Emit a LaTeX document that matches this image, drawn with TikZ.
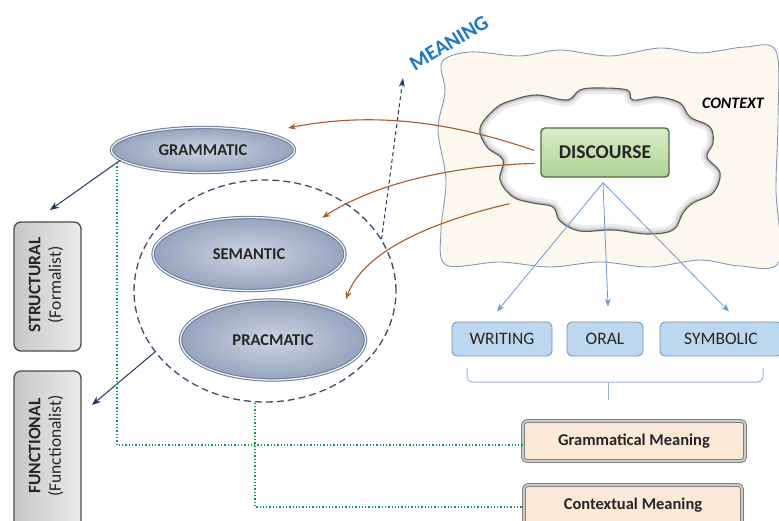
\documentclass[tikz,border=0pt]{standalone}
\usepackage{fontspec}
\setmainfont{Carlito}
\usetikzlibrary{shapes.geometric,arrows.meta,calc}
\definecolor{navy}{HTML}{1F3864}
\definecolor{brownarr}{HTML}{A85A2A}
\definecolor{ellin}{HTML}{CDD5E3}
\definecolor{ellout}{HTML}{95A3BC}
\definecolor{ellline}{HTML}{6A7A9A}
\definecolor{ctxfill}{HTML}{FCF7EF}
\definecolor{ctxline}{HTML}{8797B3}
\definecolor{boxblue}{HTML}{BDD7EE}
\definecolor{boxblueline}{HTML}{6E97C9}
\definecolor{lineblue}{HTML}{6A9AD3}
\definecolor{dotgreen}{HTML}{00A050}
\definecolor{peach}{HTML}{FCE9D8}
\definecolor{meaningblue}{HTML}{1F77C8}
\definecolor{bracketcol}{HTML}{9DB3D1}
\definecolor{discin}{HTML}{D9EBCB}
\definecolor{discout}{HTML}{AFD394}
\definecolor{discline}{HTML}{4F6E3E}
\newcommand\myfs[1]{\fontsize{#1}{#1}\selectfont}
\begin{document}
\begin{tikzpicture}[x=1pt,y=-1pt,
  ell/.style={ellipse, shading=radial, inner color=ellin, outer color=ellout,
     draw=ellline, double=white!70!ellin, double distance=1.3pt, line width=1pt,
     font=\myfs{16.5}\bfseries, text=black!85},
  sidebox/.style={rectangle, rounded corners=7pt, left color=black!22, right color=black!8,
     draw=black!70, line width=1.3pt},
  mediabox/.style={rectangle, rounded corners=5pt, fill=boxblue, draw=boxblueline, line width=0.9pt,
     font=\myfs{17.5}, text=black!85, minimum height=34pt},
  meanbox/.style={rectangle, rounded corners=4pt, fill=peach, draw=black!50, double=black!20,
     double distance=1.8pt, line width=1pt, font=\myfs{16.5}\bfseries, text=black!85},
  brownarrow/.style={brownarr, line width=1.1pt, -{Stealth[length=8pt,width=6pt]}},
  navyarrow/.style={navy, line width=1pt, -{Stealth[length=9pt,width=7pt]}},
  bluearrow/.style={lineblue, line width=0.8pt, -{Stealth[length=8pt,width=6pt]}},
  dotline/.style={dotgreen, line width=1.3pt, dotted}
]
\useasboundingbox (0,0) rectangle (779,521);

% context area
\filldraw[fill=ctxfill, draw=ctxline, line width=0.9pt]
  plot[smooth cycle, tension=0.55] coordinates {
   (442,62) (470,52) (520,56) (560,50) (610,56) (660,48) (700,53) (745,47) (776,51)
   (778,120) (776,190) (779,262)
   (740,266) (700,260) (650,267) (600,262) (550,267) (500,262) (446,265)
   (441,230) (446,180) (438,130) (445,92)};

% cloud
\def\cloudpath{plot[smooth cycle, tension=0.6] coordinates {
  (480,128) (496,108) (513,100) (537,95) (567,100) (580,90) (597,88) (627,90) (633,100)
  (657,97) (680,103) (690,117) (710,127) (713,143) (707,157) (720,173) (713,193)
  (693,203) (683,213) (673,230) (647,234) (613,230) (580,231) (560,221) (553,207)
  (533,203) (513,197) (500,180) (503,160) (487,147)}}
\fill[white] \cloudpath;
\begin{scope}
  \clip \cloudpath;
  \draw[black!15, line width=12pt, opacity=0.5] \cloudpath;
  \draw[black!25, line width=6pt, opacity=0.5] \cloudpath;
  \draw[black!35, line width=3pt, opacity=0.5] \cloudpath;
\end{scope}
\draw[black!65, line width=1.1pt] \cloudpath;

\node[font=\myfs{16}\bfseries\itshape, text=black] (ctx) at (733,103) {CONTEXT};

% discourse
\node[rectangle, rounded corners=4pt, top color=discin, bottom color=discout,
  draw=discline, line width=1.4pt, minimum width=128pt, minimum height=49pt,
  font=\myfs{19.5}\bfseries, text=black!85] (disc) at (605,152.5) {DISCOURSE};

% ellipses
\node[ell, minimum width=183pt, minimum height=45pt] (gram) at (203,150) {GRAMMATIC};
\node[ell, minimum width=192pt, minimum height=73pt] (sem) at (249,254) {SEMANTIC};
\node[ell, minimum width=185pt, minimum height=80pt] (prag) at (273,340) {PRACMATIC};
\node[ellipse, draw=navy!70!gray, dashed, dash pattern=on 7pt off 4pt, line width=1.3pt,
  minimum width=262pt, minimum height=222pt] (circ) at (265,291) {};

% side boxes
\node[sidebox, minimum width=67pt, minimum height=129pt] (struct) at (47.5,286.5) {};
\node[rotate=90, align=center, font=\myfs{17.5}, text=black!85] (structlbl) at (46,285)
  {{\bfseries STRUCTURAL}\\[3pt](Formalist)};
\node[sidebox, minimum width=67pt, minimum height=170pt] (func) at (47.5,456) {};
\node[rotate=90, align=center, font=\myfs{17.5}, text=black!85] (funclbl) at (46,446)
  {{\bfseries FUNCTIONAL}\\[3pt](Functionalist)};

% media boxes
\node[mediabox, minimum width=100pt] (writ) at (502,339) {WRITING};
\node[mediabox, minimum width=76pt] (oral) at (605,339) {ORAL};
\node[mediabox, minimum width=122pt] (sym) at (721,339) {SYMBOLIC};

% meaning boxes
\node[meanbox, minimum width=222pt, minimum height=40pt] (gm) at (634,441) {Grammatical Meaning};
\node[meanbox, minimum width=218pt, minimum height=40pt] (cm) at (633,505) {Contextual Meaning};

% MEANING label and arrow
\node[rotate=31, font=\myfs{21}\bfseries, text=meaningblue] (meanlbl) at (449,43) {MEANING};
\coordinate (meantip) at (403,78);
\draw[navy, line width=1pt, dashed, dash pattern=on 4pt off 3pt, -{Stealth[length=9pt,width=6pt]}]
  (circ.24) -- (meantip);

% navy arrows to side boxes
\coordinate (structtip) at (50,210);
\coordinate (functip) at (92,405);
\draw[navyarrow] (gram.187) -- (structtip);
\draw[navyarrow] (circ.209) -- (functip);

% brown arrows
\draw[brownarrow] ($(disc.west)+(-6,-2)$) .. controls (460,125) and (380,110) .. ($(gram.east)+(-7,-22)$);
\draw[brownarrow] ($(disc.west)+(-6,11)$) .. controls (465,165) and (380,180) .. ($(sem.north east)+(5,-10)$);
\draw[brownarrow] ($(disc.south west)+(-31,26)$) .. controls (440,220) and (365,248) .. ($(prag.north east)+(7,-12)$);

% blue lines to media
\coordinate (discfoot) at ($(disc.south)+(-2,5)$);
\draw[bluearrow] (discfoot) -- ($(writ.north)+(-5,-10)$);
\draw[bluearrow] (discfoot) -- ($(oral.north)+(3,-15)$);
\draw[bluearrow] (discfoot) -- ($(sym.north)+(8,-10)$);

% bracket
\coordinate (brl) at (467,368);
\coordinate (brr) at (763,368);
\coordinate (brm) at (608,382);
\coordinate (brmt) at (608,400);
\draw[bracketcol, line width=1pt, rounded corners=5pt] (brl) -- (467,382) -- (763,382) -- (brr);
\draw[bracketcol, line width=1pt] (brm) -- (brmt);

% green dotted connectors
\draw[dotline] ($(gram.west)+(6,13)$) |- ($(gm.west)+(0,4)$);
\draw[dotline] ($(circ.south)+(-10,0)$) |- ($(cm.west)+(0,2)$);
\end{tikzpicture}
\end{document}
